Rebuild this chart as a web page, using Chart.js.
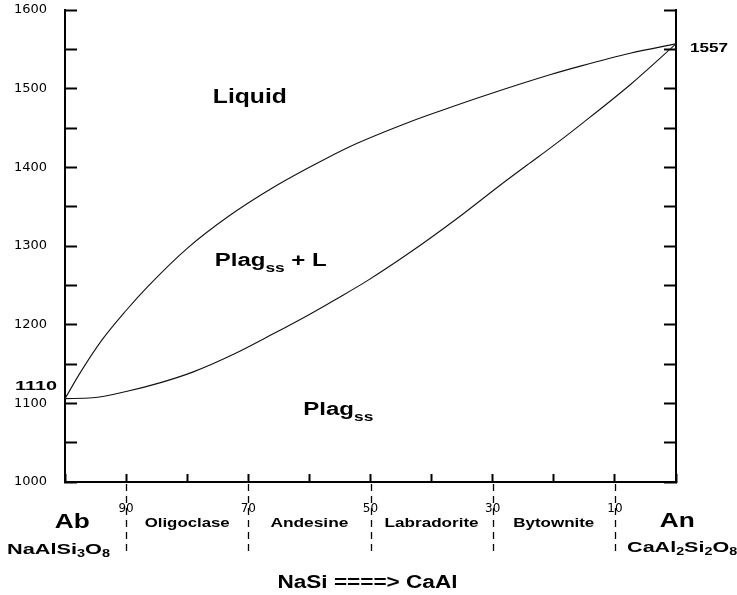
<!DOCTYPE html>
<html>
<head>
<meta charset="utf-8">
<title>Plagioclase phase diagram</title>
<script src="https://cdn.jsdelivr.net/npm/chart.js@4.4.0/dist/chart.umd.min.js"></script>
<style>
  body { margin: 0; background: #fff; }
  #wrap { width: 737px; height: 595px; }
</style>
</head>
<body>
<div id="wrap"><canvas id="grafico" width="737" height="595"></canvas></div>
<script>
// Liquidus (upper curve): % An vs temperature (C)
var anLiquidus = [0, 2.5, 6, 10, 13.5, 20, 27, 34, 40, 46.5, 56.5, 61.5, 69, 79.5, 84.5, 92.5, 100];
var tLiquidus = [1106, 1139, 1180, 1218, 1248, 1297, 1339, 1374, 1400, 1426, 1458, 1472, 1492, 1518, 1529, 1545, 1557];

// Solidus (lower curve)
var anSolidus = [0, 4.5, 10, 15.5, 21, 27.5, 34, 40, 44.5, 49.5, 56.5, 64, 71, 76, 79.5, 84.5, 92.5, 100];
var tSolidus = [1106, 1107, 1115, 1126, 1140, 1162, 1188, 1213, 1233, 1256, 1292, 1334, 1376, 1405, 1425, 1455, 1505, 1557];

// Limites entre minerales (% An) y nombres
var limites = [10, 30, 50, 70, 90];
var minerales = ["Oligoclase", "Andesine", "Labradorite", "Bytownite"];

// Etiquetas de puntos de fusion
var fusionAb = "1110";
var fusionAn = "1557";

var negro = "#000";
var fuente = "Liberation Sans";

// dibuja texto (con subindices) estirado al ancho indicado
function textoRico(ctx, partes, x, y, ancho, align) {
    var natural = 0;
    partes.forEach(function (p) {
        ctx.font = "bold " + p.size + "px '" + fuente + "'";
        natural += ctx.measureText(p.t).width;
    });
    var sx = ancho / natural;
    var izq = x;
    if (align === "center") izq = x - ancho / 2;
    if (align === "right") izq = x - ancho;
    ctx.save();
    ctx.translate(izq, y);
    ctx.scale(sx, 1);
    ctx.fillStyle = negro;
    ctx.textBaseline = "alphabetic";
    ctx.textAlign = "left";
    var cx = 0;
    partes.forEach(function (p) {
        ctx.font = "bold " + p.size + "px '" + fuente + "'";
        ctx.fillText(p.t, cx, p.dy || 0);
        cx += ctx.measureText(p.t).width;
    });
    ctx.restore();
}

var etiquetas = {
    id: "etiquetas",
    afterDraw: function (chart) {
        var ctx = chart.ctx;
        var xs = chart.scales.x;
        var ys = chart.scales.y;
        var px = function (v) { return xs.getPixelForValue(v); };
        var py = function (v) { return ys.getPixelForValue(v); };
        var area = chart.chartArea;

        // lineas discontinuas bajo el eje
        ctx.save();
        ctx.strokeStyle = negro;
        ctx.lineWidth = 1.3;
        ctx.setLineDash([7, 5]);
        limites.forEach(function (l) {
            var x = Math.round(px(l)) + 0.5;
            ctx.beginPath();
            ctx.moveTo(x, area.bottom + 2);
            ctx.lineTo(x, area.bottom + 74);
            ctx.stroke();
        });
        ctx.restore();

        // nombres de minerales
        var anchos = [85, 78, 94, 81];
        minerales.forEach(function (m, i) {
            var centro = (limites[i] + limites[i + 1]) / 2;
            textoRico(ctx, [{ t: m, size: 12 }], px(centro), py(943), anchos[i], "center");
        });

        // campos del diagrama
        textoRico(ctx, [{ t: "Liquid", size: 20 }], px(24.2), py(1482), 74, "left");
        textoRico(ctx, [{ t: "Plag", size: 18 }, { t: "ss", size: 13, dy: 6 }, { t: " + L", size: 18 }],
            px(24.5), py(1275), 112, "left");
        textoRico(ctx, [{ t: "Plag", size: 18 }, { t: "ss", size: 13, dy: 6 }], px(39), py(1085), 70, "left");

        // puntos de fusion
        textoRico(ctx, [{ t: fusionAb, size: 12 }], px(-1.3), py(1117), 42, "right");
        textoRico(ctx, [{ t: fusionAn, size: 13 }], px(102.3), py(1547), 38, "left");

        // miembros extremos
        textoRico(ctx, [{ t: "Ab", size: 21 }], px(1.2), py(941.5), 35, "center");
        textoRico(ctx, [{ t: "NaAlSi", size: 15 }, { t: "3", size: 10, dy: 3 }, { t: "O", size: 15 }, { t: "8", size: 10, dy: 3 }],
            px(-9.5), py(908.5), 103, "left");
        textoRico(ctx, [{ t: "An", size: 21 }], px(100.2), py(943), 35, "center");
        textoRico(ctx, [{ t: "CaAl", size: 15 }, { t: "2", size: 10, dy: 3 }, { t: "Si", size: 15 }, { t: "2", size: 10, dy: 3 },
            { t: "O", size: 15 }, { t: "8", size: 10, dy: 3 }], px(92), py(911), 110, "left");

        // sustitucion
        textoRico(ctx, [{ t: "NaSi ====> CaAl", size: 18 }], px(49.5), py(865), 180, "center");
    }
};

function puntos(xs, ys) {
    return xs.map(function (x, i) { return { x: x, y: ys[i] }; });
}

// quita el relleno que chart.js reserva por las etiquetas
function ejeVertical(ancho) {
    return function (s) {
        s.width = ancho;
        s.paddingTop = 0;
        s.paddingBottom = 0;
    };
}

var ctx = document.getElementById("grafico").getContext("2d");
var grafico = new Chart(ctx, {
    type: "scatter",
    data: {
        datasets: [{
            label: "Liquidus",
            data: puntos(anLiquidus, tLiquidus),
            showLine: true,
            borderColor: "#111",
            borderWidth: 1.1,
            pointRadius: 0,
            cubicInterpolationMode: "monotone"
        }, {
            label: "Solidus",
            data: puntos(anSolidus, tSolidus),
            showLine: true,
            borderColor: "#111",
            borderWidth: 1.1,
            pointRadius: 0,
            cubicInterpolationMode: "monotone"
        }]
    },
    options: {
        responsive: false,
        animation: false,
        layout: { padding: { top: 10, left: 0, right: 0, bottom: 0 } },
        plugins: {
            legend: { display: false },
            tooltip: { enabled: false }
        },
        scales: {
            x: {
                type: "linear",
                position: "bottom",
                min: 0,
                max: 100,
                afterFit: function (s) { s.height = 113; s.paddingLeft = 0; s.paddingRight = 0; },
                border: { display: true, color: negro, width: 2 },
                grid: { drawOnChartArea: false, color: negro, tickLength: -8, tickWidth: 2 },
                ticks: {
                    stepSize: 10,
                    padding: 28,
                    color: negro,
                    maxRotation: 0,
                    font: { family: "DejaVu Sans", size: 12 },
                    callback: function (v) { return limites.indexOf(v) >= 0 ? String(100 - v) : ""; }
                }
            },
            y: {
                type: "linear",
                position: "left",
                min: 1000,
                max: 1600,
                afterFit: ejeVertical(65),
                border: { display: true, color: negro, width: 2 },
                grid: { drawOnChartArea: false, color: negro, tickLength: -12, tickWidth: 2 },
                ticks: {
                    stepSize: 50,
                    padding: 30,
                    color: negro,
                    font: { family: "DejaVu Sans", size: 13 },
                    callback: function (v) { return v % 100 === 0 ? String(v) : ""; }
                }
            },
            y2: {
                type: "linear",
                position: "right",
                min: 1000,
                max: 1600,
                afterFit: ejeVertical(61),
                border: { display: true, color: negro, width: 2 },
                grid: { drawOnChartArea: false, color: negro, tickLength: -12, tickWidth: 2 },
                ticks: { stepSize: 50, display: false }
            }
        }
    },
    plugins: [etiquetas]
});
</script>
</body>
</html>
